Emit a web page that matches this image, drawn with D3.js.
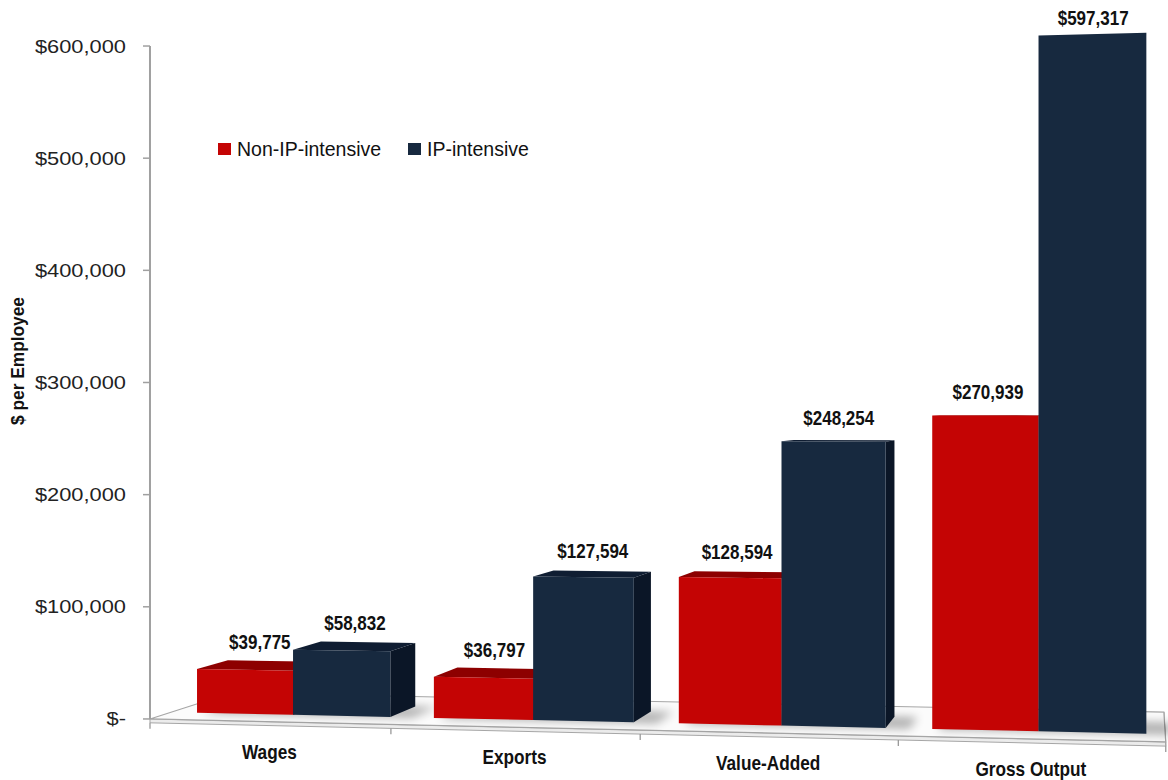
<!DOCTYPE html>
<html>
<head>
<meta charset="utf-8">
<script src="https://cdn.jsdelivr.net/npm/d3@7"></script>
<style>
  html, body { margin: 0; padding: 0; background: #fff; }
  svg { display: block; }
</style>
</head>
<body>
<svg id="chart" width="1168" height="780"></svg>
<script>
// ---- data ----
const categories = ["Wages", "Exports", "Value-Added", "Gross Output"];
const seriesNames = ["Non-IP-intensive", "IP-intensive"];
const nonIpValues = [39775, 36797, 128594, 270939];
const ipValues = [58832, 127594, 248254, 597317];
const yTickValues = [0, 100000, 200000, 300000, 400000, 500000, 600000];

const seriesColors = {
  "Non-IP-intensive": { front: "#c40404", top: "#8d0000", side: "#780000" },
  "IP-intensive":     { front: "#17293f", top: "#0f1d32", side: "#0b1627" }
};

// ---- 3D scene (world units) ----
const floorWidth = 1026, floorDepth = 268;
const barZ0 = 66, barZ1 = 169;           // bar depth range on the floor
const pairWidth = 210;

const xBand = d3.scaleBand().domain(categories).range([0, floorWidth]);
const xSeries = d3.scaleBand().domain(seriesNames).range([0, pairWidth]);
const yScale = d3.scaleLinear().domain([0, 600000]).range([0, 693.7]);
const pairOffset = (xBand.bandwidth() - pairWidth) / 2 + 5;

// perspective camera: yawed so the right end of the floor is nearer
const cam = (() => {
  const a = Math.atan(0.19635);
  return { f: 2852, cx: 584, cy: 400, cos: Math.cos(a), sin: Math.sin(a),
           ox: -447.4, oy: -328.8, oz: 2940 };
})();
function project(X, Y, Z) {
  const x = cam.ox + X * cam.cos + Z * cam.sin;
  const y = cam.oy + Y;
  const z = cam.oz - X * cam.sin + Z * cam.cos;
  return [cam.cx + cam.f * x / z, cam.cy - cam.f * y / z];
}
const poly = pts => "M" + pts.map(p => p.join(",")).join("L") + "Z";

const condensed = "Liberation Sans Narrow, Arial Narrow, Liberation Sans, Arial, sans-serif";
const regular = "Liberation Sans, Arial, sans-serif";

const svg = d3.select("#chart");
const defs = svg.append("defs");
defs.append("filter").attr("id", "soft").attr("x", "-20%").attr("y", "-50%")
  .attr("width", "140%").attr("height", "200%")
  .append("feGaussianBlur").attr("stdDeviation", 5);

// ---- floor ----
const floorG = svg.append("g");
const slab = 4;
floorG.append("path")
  .attr("d", poly([project(0, 0, 0), project(floorWidth, 0, 0),
                   project(floorWidth, -slab, 0), project(0, -slab, 0)]))
  .attr("fill", "#ececec").attr("stroke", "#a6a6a6").attr("stroke-width", 1);
floorG.append("path")
  .attr("d", poly([project(floorWidth, 0, 0), project(floorWidth, 0, floorDepth),
                   project(floorWidth, -slab, floorDepth), project(floorWidth, -slab, 0)]))
  .attr("fill", "#e4e4e4").attr("stroke", "#a6a6a6").attr("stroke-width", 1);
floorG.append("path")
  .attr("d", poly([project(0, 0, 0), project(floorWidth, 0, 0),
                   project(floorWidth, 0, floorDepth), project(0, 0, floorDepth)]))
  .attr("fill", "#fbfbfb").attr("stroke", "#a6a6a6").attr("stroke-width", 1.2);

// soft shadows cast on the floor to the right of each bar pair
categories.forEach(c => {
  const x0 = xBand(c) + pairOffset, x1 = x0 + pairWidth;
  floorG.append("path")
    .attr("d", poly([project(x0 + 6, 0, barZ0 - 4), project(x1 + 24, 0, barZ0 - 4),
                     project(x1 + 24, 0, barZ1), project(x0 + 6, 0, barZ1)]))
    .attr("fill", "#000").attr("opacity", 0.3).attr("filter", "url(#soft)");
});

// category tick marks along the front edge
d3.range(categories.length + 1).forEach(i => {
  const X = i * xBand.step();
  const p = project(X, -slab, 0);
  floorG.append("line").attr("x1", p[0]).attr("x2", p[0])
    .attr("y1", p[1]).attr("y2", p[1] + 6)
    .attr("stroke", "#999").attr("stroke-width", 1.3);
});

// ---- value axis ----
const axisG = svg.append("g");
const pBottom = project(0, 0, 0), pTop = project(0, yScale(600000), 0);
axisG.append("line").attr("x1", pBottom[0]).attr("y1", pBottom[1])
  .attr("x2", pTop[0]).attr("y2", pTop[1])
  .attr("stroke", "#a0a0a0").attr("stroke-width", 2);
const moneyFmt = d3.format(",");
yTickValues.forEach(v => {
  const p = project(0, yScale(v), 0);
  axisG.append("line").attr("x1", p[0] - 7).attr("x2", p[0])
    .attr("y1", p[1]).attr("y2", p[1]).attr("stroke", "#a0a0a0").attr("stroke-width", 1.5);
  axisG.append("text")
    .attr("transform", `translate(${p[0] - 24},${p[1] + 6.5}) scale(1.15,1)`)
    .attr("text-anchor", "end")
    .attr("font-family", regular)
    .attr("font-size", 19).attr("fill", "#222")
    .text(v === 0 ? "$-" : "$" + moneyFmt(v));
});

axisG.append("text")
  .attr("transform", "translate(24,361) rotate(-90)")
  .attr("text-anchor", "middle")
  .attr("font-family", condensed)
  .attr("font-weight", "bold").attr("font-size", 19)
  .attr("textLength", 128).attr("lengthAdjust", "spacingAndGlyphs")
  .attr("fill", "#111")
  .text("$ per Employee");

// ---- bars ----
const barsG = svg.append("g");
const labelsG = svg.append("g");
const series = [
  { name: seriesNames[0], values: nonIpValues },
  { name: seriesNames[1], values: ipValues }
];
const bars = [];
categories.forEach((c, i) => {
  series.forEach(s => {
    const x0 = xBand(c) + pairOffset + xSeries(s.name);
    bars.push({ cat: c, name: s.name, value: s.values[i], x0, x1: x0 + xSeries.bandwidth() });
  });
});
// painter's order: left to right
bars.sort((a, b) => a.x0 - b.x0);
bars.forEach(b => {
  const h = yScale(b.value);
  const col = seriesColors[b.name];
  const g = barsG.append("g");
  const fTL = project(b.x0, h, barZ0), fTR = project(b.x1, h, barZ0);
  const fBL = project(b.x0, 0, barZ0), fBR = project(b.x1, 0, barZ0);
  const kTL = project(b.x0, h, barZ1), kTR = project(b.x1, h, barZ1);
  const kBR = project(b.x1, 0, barZ1);
  // right side face, visible while the far edge lies right of the near edge
  if (kTR[0] > fTR[0] + 0.3) {
    g.append("path").attr("d", poly([fTR, kTR, kBR, fBR])).attr("fill", col.side);
  }
  // top face, visible when the far edge projects above the near edge
  if (kTL[1] < fTL[1] - 0.3) {
    g.append("path").attr("d", poly([fTL, fTR, kTR, kTL])).attr("fill", col.top);
  }
  g.append("path").attr("d", poly([fBL, fBR, fTR, fTL])).attr("fill", col.front);

  const pc = project((b.x0 + b.x1) / 2, h, (barZ0 + barZ1) / 2);
  labelsG.append("text")
    .attr("transform", `translate(${pc[0]},${pc[1] - 16}) scale(0.83,1)`)
    .attr("text-anchor", "middle")
    .attr("font-family", condensed)
    .attr("font-weight", "bold").attr("font-size", 20.5).attr("fill", "#111")
    .text("$" + moneyFmt(b.value));
});

// ---- category labels ----
categories.forEach(c => {
  const p = project(xBand(c) + xBand.bandwidth() / 2, 0, 0);
  svg.append("text")
    .attr("transform", `translate(${p[0]},${p[1] + 37}) scale(0.82,1)`)
    .attr("text-anchor", "middle")
    .attr("font-family", condensed)
    .attr("font-weight", "bold").attr("font-size", 21).attr("fill", "#111")
    .text(c);
});

// ---- legend ----
const legend = svg.append("g").attr("transform", "translate(218,143)");
const legendX = [0, 190];
seriesNames.forEach((n, i) => {
  const g = legend.append("g").attr("transform", `translate(${legendX[i]},0)`);
  g.append("rect").attr("width", 13).attr("height", 12).attr("fill", seriesColors[n].front);
  g.append("text").attr("x", 19).attr("y", 13)
    .attr("font-family", regular)
    .attr("font-size", 19.5).attr("fill", "#111").text(n);
});
</script>
</body>
</html>
